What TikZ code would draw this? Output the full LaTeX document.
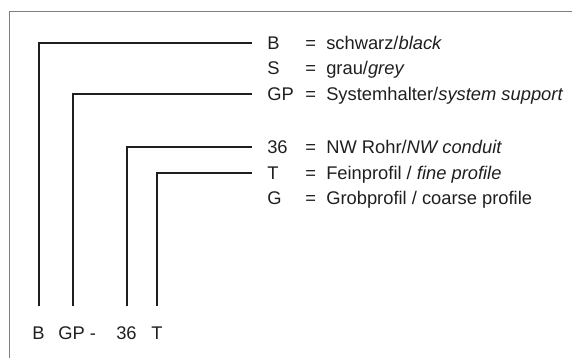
\documentclass[tikz,border=0pt]{standalone}
\usepackage{fontspec}
\setmainfont{Liberation Sans}
\usetikzlibrary{positioning}

\begin{document}
\begin{tikzpicture}[x=0.75pt, y=-0.75pt,
codenode/.style={inner sep=0pt, text height=9.8pt, text depth=0pt, anchor=west, text=black!88, font=\fontsize{13.75pt}{16pt}\selectfont},
labelnode/.style={inner sep=0pt, text height=9.8pt, text depth=0pt, text=black!88, font=\fontsize{13.75pt}{16pt}\selectfont},
wire/.style={line width=1.5pt, black!88, shorten <=15pt, shorten >=11.5pt},
]
\useasboundingbox (0,0) rectangle (572,358);
\draw[black!50, line width=0.9pt] (9.3,358) -- (9.3,11.3) -- (572,11.3);

%Nodes
\node[codenode]   (codeB)   at (267,42.5)  {B};
\node[codenode]   (codeS)   at (267,68)    {S};
\node[codenode]   (codeGP)  at (267,93.5)  {GP};
\node[codenode]   (code36)  at (267,146.5) {36};
\node[codenode]   (codeT)   at (267,172.5) {T};
\node[codenode]   (codeG)   at (267,198)   {G};

\node[codenode]   (eqB)     at (305,42.5)  {=};
\node[codenode]   (eqS)     at (305,68)    {=};
\node[codenode]   (eqGP)    at (305,93.5)  {=};
\node[codenode]   (eq36)    at (305,146.5) {=};
\node[codenode]   (eqT)     at (305,172.5) {=};
\node[codenode]   (eqG)     at (305,198)   {=};

\node[codenode]   (textB)   at (326,42.5)  {schwarz/\textit{black}};
\node[codenode]   (textS)   at (326,68)    {grau/\textit{grey}};
\node[codenode]   (textGP)  at (326,93.5)  {Systemhalter/\textit{system support}};
\node[codenode]   (text36)  at (326,146.5) {NW Rohr/\textit{NW conduit}};
\node[codenode]   (textT)   at (326,172.5) {Feinprofil / \textit{fine profile}};
\node[codenode]   (textG)   at (326,198)   {Grobprofil / coarse profile};

\node[labelnode]  (lblB)    at (38.5,333)  {B};
\node[labelnode]  (lblGP)   at (71.5,333)  {GP};
\node[labelnode]  (lblDash) at (93,333)    {-};
\node[labelnode]  (lbl36)   at (126.5,333) {36};
\node[labelnode]  (lblT)    at (157,333)   {T};

%Lines
\draw[wire] (lblB.north)  |- (codeB.west);
\draw[wire] ([xshift=1.3pt]lblGP.north) |- (codeGP.west);
\draw[wire] (lbl36.north) |- (code36.west);
\draw[wire] (lblT.north)  |- (codeT.west);
\end{tikzpicture}
\end{document}
